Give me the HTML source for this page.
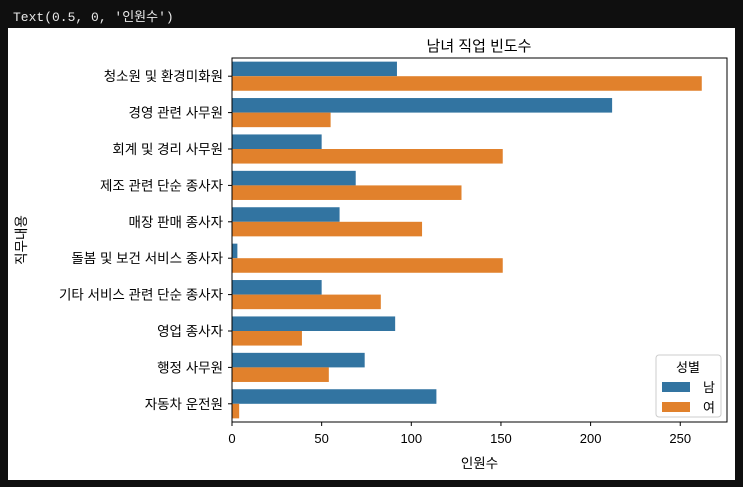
<!DOCTYPE html>
<html><head><meta charset="utf-8"><style>
body{margin:0;width:743px;height:487px;background:#0f0f0f;overflow:hidden;font-family:"Liberation Sans","Noto Sans CJK KR",sans-serif}
#hdr{position:absolute;left:13px;top:6px;color:#e8e8e8;font:13px "Liberation Mono","Noto Sans CJK KR",monospace}
svg{position:absolute;left:0;top:0}
</style></head><body>
<div id="hdr">Text(0.5, 0, '인원수')</div>
<svg id="c" width="743" height="487"></svg>
<script>
const categories=["청소원 및 환경미화원","경영 관련 사무원","회계 및 경리 사무원","제조 관련 단순 종사자","매장 판매 종사자","돌봄 및 보건 서비스 종사자","기타 서비스 관련 단순 종사자","영업 종사자","행정 사무원","자동차 운전원"];
const maleValues=[92,212,50,69,60,3,50,91,74,114];
const femaleValues=[262,55,151,128,106,151,83,39,54,4];
const xTicks=[0,50,100,150,200,250];
const ns="http://www.w3.org/2000/svg",svg=document.getElementById('c');
const L=232,R=727,T=58,B=422,pxPer=1.793;
const x=v=>L+v*pxPer, band=(B-T)/categories.length;
function el(t,a,txt){const e=document.createElementNS(ns,t);for(const k in a)e.setAttribute(k,a[k]);if(txt!=null)e.textContent=txt;svg.appendChild(e);return e;}
const bg=el('rect',{x:8,y:28,width:727,height:452,fill:'#fff'});


const t=el('text',{x:479,y:51,'text-anchor':'middle','font-size':15,fill:'#000'},'남녀 직업 빈도수');


const bw=band*0.4;
categories.forEach((c,i)=>{
  const y0=T+i*band+band*0.1;
  const m=el('rect',{x:L,y:y0,width:x(maleValues[i])-L,height:bw,fill:'#3274a1'});
  
  
  const f=el('rect',{x:L,y:y0+bw,width:x(femaleValues[i])-L,height:bw,fill:'#e1812c'});
  
  
  const yc=T+(i+0.5)*band;
  el('line',{x1:L-4,x2:L,y1:yc,y2:yc,stroke:'#000'});
  const lb=el('text',{x:L-9,y:yc+5,'text-anchor':'end','font-size':13.5,fill:'#000'},c);
  
  
});
xTicks.forEach(v=>{
  el('line',{x1:x(v),x2:x(v),y1:B,y2:B+4,stroke:'#000'});
  const tl=el('text',{x:x(v),y:B+21,'text-anchor':'middle','font-size':13,fill:'#000'},v);
  
  
});
const fr=el('rect',{x:L,y:T,width:R-L,height:B-T,fill:'none',stroke:'#000','stroke-width':1});


const xl=el('text',{x:(L+R)/2,y:468,'text-anchor':'middle','font-size':13.5,fill:'#000'},'인원수');


const yl=el('text',{x:0,y:0,'text-anchor':'middle','font-size':13.5,fill:'#000',transform:'translate(26,240) rotate(-90)'},'직무내용');


const lg=el('rect',{x:656,y:355,width:65,height:62,fill:'#fff',stroke:'#ccc',rx:3});


el('text',{x:688,y:372,'text-anchor':'middle','font-size':13,fill:'#000'},'성별');
const e1=el('rect',{x:662,y:382,width:28,height:10,fill:'#3274a1'});


el('text',{x:703,y:392,'font-size':13,fill:'#000'},'남');
const e2=el('rect',{x:662,y:402,width:28,height:10,fill:'#e1812c'});


el('text',{x:703,y:412,'font-size':13,fill:'#000'},'여');
</script>
</body></html>
